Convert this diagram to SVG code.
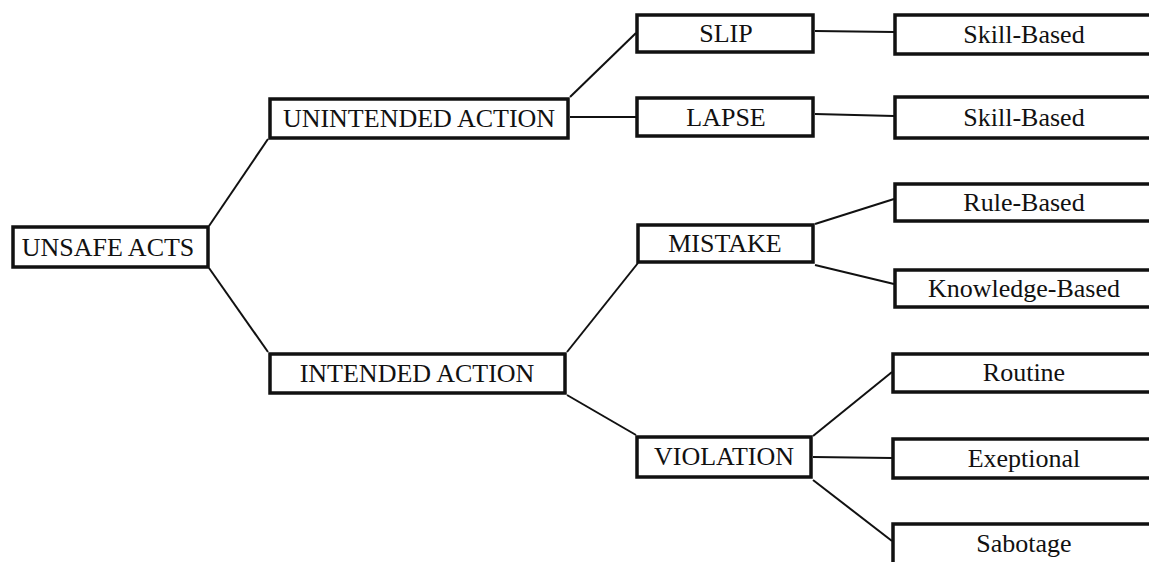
<svg xmlns="http://www.w3.org/2000/svg" width="1149" height="562" viewBox="0 0 1149 562">
  <style>
    .box { fill: #ffffff; stroke: #111111; stroke-width: 3.5; }
    .lbl { font-family: "Liberation Serif", "Times New Roman", serif; font-size: 26px; fill: #111111; text-anchor: middle; }
    .conn line { stroke: #111111; stroke-width: 2; }
  </style>
  <rect width="1149" height="562" fill="#ffffff"/>

  <!-- connectors -->
  <g id="connectors" class="conn">
    <line x1="209" y1="226" x2="268" y2="139"/>
    <line x1="209" y1="268" x2="268" y2="352"/>
    <line x1="570" y1="97" x2="636" y2="33"/>
    <line x1="570" y1="117" x2="636" y2="117"/>
    <line x1="815" y1="31" x2="894" y2="32"/>
    <line x1="815" y1="114" x2="894" y2="116"/>
    <line x1="567" y1="352" x2="638" y2="263"/>
    <line x1="567" y1="395" x2="636" y2="435"/>
    <line x1="815" y1="224" x2="894" y2="199"/>
    <line x1="815" y1="265" x2="894" y2="284"/>
    <line x1="813" y1="436" x2="892" y2="372"/>
    <line x1="813" y1="457" x2="892" y2="458"/>
    <line x1="813" y1="480" x2="892" y2="541"/>
  </g>

  <g id="unsafe-acts">
    <rect class="box" x="13" y="227" width="195" height="40"/>
    <text class="lbl" x="108" y="256">UNSAFE ACTS</text>
  </g>
  <g id="unintended-action">
    <rect class="box" x="270" y="99" width="298" height="39"/>
    <text class="lbl" x="419" y="127">UNINTENDED ACTION</text>
  </g>
  <g id="intended-action">
    <rect class="box" x="270" y="354" width="295" height="39"/>
    <text class="lbl" x="417" y="382">INTENDED ACTION</text>
  </g>
  <g id="slip">
    <rect class="box" x="637" y="15" width="176" height="37"/>
    <text class="lbl" x="726" y="42">SLIP</text>
  </g>
  <g id="lapse">
    <rect class="box" x="637" y="98" width="176" height="38"/>
    <text class="lbl" x="726" y="126">LAPSE</text>
  </g>
  <g id="mistake">
    <rect class="box" x="638" y="225" width="175" height="37"/>
    <text class="lbl" x="725" y="252">MISTAKE</text>
  </g>
  <g id="violation">
    <rect class="box" x="637" y="437" width="174" height="40"/>
    <text class="lbl" x="724" y="465">VIOLATION</text>
  </g>
  <g id="slip-skill-based">
    <rect class="box" x="895" y="15" width="270" height="39"/>
    <text class="lbl" x="1024" y="43">Skill-Based</text>
  </g>
  <g id="lapse-skill-based">
    <rect class="box" x="895" y="97" width="270" height="41"/>
    <text class="lbl" x="1024" y="126">Skill-Based</text>
  </g>
  <g id="rule-based">
    <rect class="box" x="895" y="184" width="270" height="37"/>
    <text class="lbl" x="1024" y="211">Rule-Based</text>
  </g>
  <g id="knowledge-based">
    <rect class="box" x="895" y="270" width="270" height="37"/>
    <text class="lbl" x="1024" y="297">Knowledge-Based</text>
  </g>
  <g id="routine">
    <rect class="box" x="893" y="354" width="270" height="38"/>
    <text class="lbl" x="1024" y="381">Routine</text>
  </g>
  <g id="exeptional">
    <rect class="box" x="893" y="439" width="270" height="39"/>
    <text class="lbl" x="1024" y="467">Exeptional</text>
  </g>
  <g id="sabotage">
    <rect class="box" x="893" y="524" width="270" height="60"/>
    <text class="lbl" x="1024" y="552">Sabotage</text>
  </g>
</svg>
